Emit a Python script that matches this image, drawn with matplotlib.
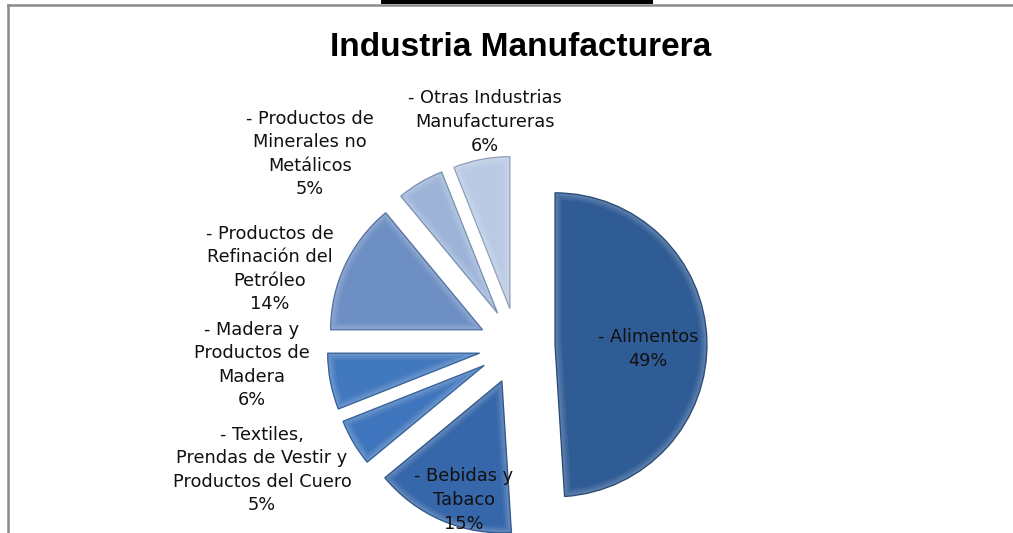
import matplotlib
matplotlib.use("Agg")
import matplotlib.pyplot as plt
from matplotlib.patches import Rectangle, Wedge
from matplotlib.lines import Line2D

# ---- data ----
categories = [
    "- Alimentos\n49%",
    "- Bebidas y\nTabaco\n15%",
    "- Textiles,\nPrendas de Vestir y\nProductos del Cuero\n5%",
    "- Madera y\nProductos de\nMadera\n6%",
    "- Productos de\nRefinación del\nPetróleo\n14%",
    "- Productos de\nMinerales no\nMetálicos\n5%",
    "- Otras Industrias\nManufactureras\n6%",
]
values = [49, 15, 5, 6, 14, 5, 6]
colors = ["#2F5C95", "#3667AA", "#3F75BC", "#4278BE", "#6D8FC3", "#9DB3D8", "#BACAE4"]
edge_colors = ["#1f3f6a", "#244b80", "#2a5690", "#2a5690", "#4a6898", "#7187ad", "#8798b8"]

title = "Industria Manufacturera"

W, H = 1013, 533
fig = plt.figure(figsize=(W / 100, H / 100), dpi=100)
fig.patch.set_facecolor("white")

cx, cy, R = 517, 346, 152
ax = fig.add_axes([0, 0, 1, 1])
wedges, _ = ax.pie(values, startangle=90, counterclock=False,
                   explode=[0.25] * len(values), colors=colors,
                   wedgeprops=dict(linewidth=0))
for w, ec in zip(wedges, edge_colors):
    # soft bevel highlight clipped inside each slice
    for lw_, a_ in [(10, 0.06), (7, 0.07), (4, 0.09)]:
        hl = Wedge(w.center, w.r, w.theta1, w.theta2, facecolor="none",
                   edgecolor="white", alpha=a_, lw=lw_)
        ax.add_patch(hl)
        hl.set_clip_path(w)
    ol = Wedge(w.center, w.r, w.theta1, w.theta2, facecolor="none",
               edgecolor=ec, lw=0.9, alpha=0.9)
    ax.add_patch(ol)
ax.set_aspect("auto")
ax.set_xlim(-cx / R, (W - cx) / R)
ax.set_ylim(-(H - cy) / R, cy / R)
ax.axis("off")

def fx(px):
    return px / W

def fy(py):
    return 1 - py / H

# chart border (grey) and black bar at top
fig.add_artist(Line2D([fx(8), fx(1013)], [fy(4.5), fy(4.5)], color="#8a8a8a", lw=1.8))
fig.add_artist(Line2D([fx(8), fx(8)], [fy(4.5), fy(533)], color="#8a8a8a", lw=1.8))
fig.add_artist(Rectangle((fx(381), fy(4)), fx(653) - fx(381), fy(0) - fy(4),
                         transform=fig.transFigure, color="black", lw=0))

fig.text(fx(521), fy(47), title, ha="center", va="center",
         fontsize=24, fontweight="bold", family="Liberation Sans")

label_pos = [(648, 349), (464, 500), (262, 470), (252, 365), (270, 269), (310, 154), (485, 122)]
for lab, (px, py) in zip(categories, label_pos):
    fig.text(fx(px), fy(py), lab, ha="center", va="center", fontsize=12.8,
             family="DejaVu Sans", color="#111111", linespacing=1.4)

fig.savefig("out.png", dpi=100)
